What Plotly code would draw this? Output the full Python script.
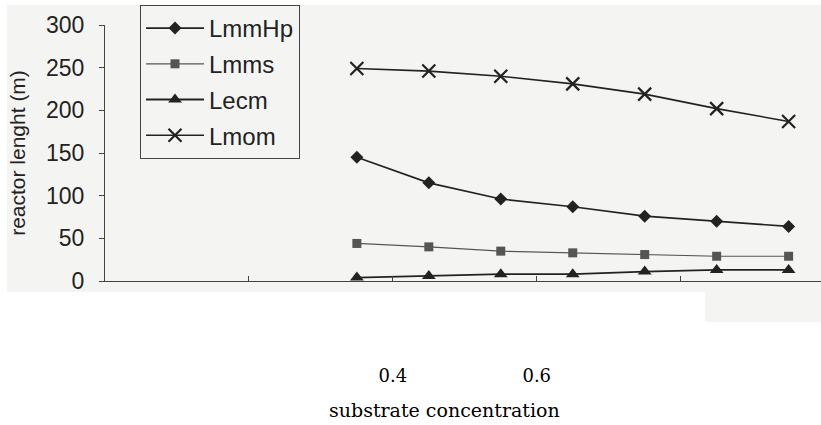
import plotly.graph_objects as go

# Data
x_conc = [0.35, 0.45, 0.55, 0.65, 0.75, 0.85, 0.95]
lmmhp = [145, 115, 96, 87, 76, 70, 64]
lmms = [44, 40, 35, 33, 31, 29, 29]
lecm = [4, 6, 8, 8, 11, 13, 13]
lmom = [249, 246, 240, 231, 219, 202, 187]

y_ticks = [0, 50, 100, 150, 200, 250, 300]
x_ticks = [0.2, 0.4, 0.6, 0.8]
x_ticktext = ["", "0.4", "0.6", ""]

W, H = 821, 425
L, R, T, B = 105, 0, 25, 144
pw, ph = W - L - R, H - T - B
def px(x): return (x - L) / pw
def py(y): return (H - B - y) / ph

bg = "#f4f5f3"
ink = "#222222"

fig = go.Figure()
series = [
    ("LmmHp", lmmhp, "diamond", 10, ink, 1.6),
    ("Lmms", lmms, "square", 9, "#555555", 1.2),
    ("Lecm", lecm, "triangle-up", 12, ink, 1.8),
    ("Lmom", lmom, "x-thin", 13, ink, 1.6),
]
for name, ys, sym, size, col, lw in series:
    fig.add_trace(go.Scatter(
        x=x_conc, y=ys, name=name, legendgroup=name,
        mode="lines+markers",
        line=dict(color=col, width=lw),
        marker=dict(symbol=sym, size=size, color=col,
                    line=dict(color=col, width=2.2 if sym == "x-thin" else 0)),
    ))

fig.update_layout(
    width=W, height=H,
    margin=dict(l=L, r=R, t=T, b=B, autoexpand=False),
    paper_bgcolor="white",
    plot_bgcolor="rgba(0,0,0,0)",
    showlegend=True,
    legend=dict(
        x=px(140), y=py(5), xanchor="left", yanchor="top",
        bgcolor=bg, bordercolor="#444444", borderwidth=1,
        font=dict(family="Arial, Liberation Sans", size=24, color=ink),
        tracegroupgap=1.5, itemwidth=58,
    ),
    shapes=[
        dict(type="rect", xref="paper", yref="paper", layer="below",
             x0=px(7), x1=1, y0=py(292), y1=py(5),
             fillcolor=bg, line=dict(width=0)),
        dict(type="rect", xref="paper", yref="paper", layer="below",
             x0=px(705), x1=1, y0=py(322), y1=py(292),
             fillcolor=bg, line=dict(width=0)),
    ],
    annotations=[
        dict(text="substrate concentration", xref="paper", yref="paper",
             x=px(444), y=py(410), xanchor="center", yanchor="middle",
             showarrow=False,
             font=dict(family="DejaVu Serif", size=19, color="black")),
    ],
)

fig.update_xaxes(
    range=[0.0, 0.995],
    tickvals=x_ticks, ticktext=x_ticktext,
    ticks="inside", ticklen=5, tickcolor="#444444",
    showline=True, linecolor="#444444", linewidth=1,
    showgrid=False, zeroline=False,
    ticklabelstandoff=78,
    tickfont=dict(family="DejaVu Serif", size=18, color="black"),
)
fig.update_yaxes(
    range=[0, 300],
    tickvals=y_ticks,
    ticks="outside", ticklen=5, tickcolor="#444444",
    showline=True, linecolor="#444444", linewidth=1,
    showgrid=False, zeroline=False,
    ticklabelstandoff=10,
    tickfont=dict(family="Arial, Liberation Sans", size=23, color=ink),
    title=dict(text="reactor lenght (m)", standoff=14,
               font=dict(family="Arial, Liberation Sans", size=21, color=ink)),
)

fig.write_html("out.html")
